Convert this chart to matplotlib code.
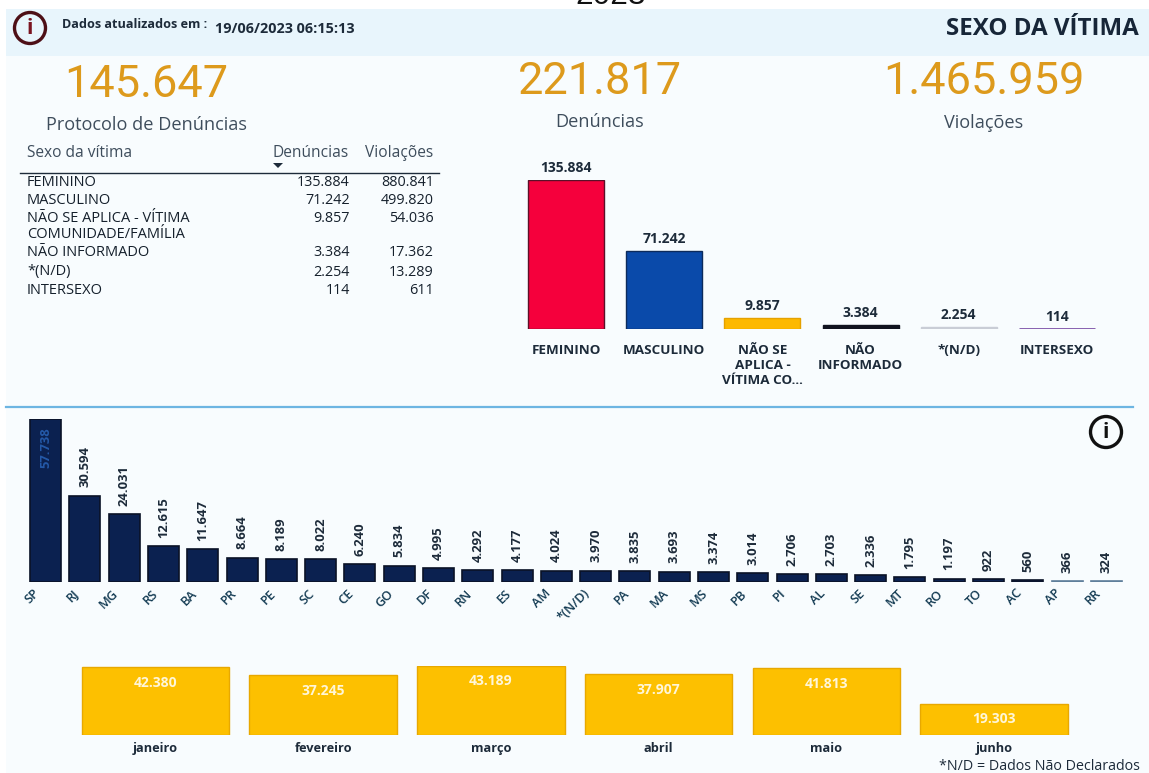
import matplotlib
matplotlib.use('Agg')
import matplotlib.pyplot as plt
from matplotlib.patches import Circle, Rectangle

plt.rcParams['font.family'] = ['Open Sans', 'DejaVu Sans']

W, H = 1149, 773

# data
kpi_values = ['145.647', '221.817', '1.465.959']
kpi_names = ['Protocolo de Denúncias', 'Denúncias', 'Violações']

table_names = ['FEMININO', 'MASCULINO', 'NÃO SE APLICA - VÍTIMA\nCOMUNIDADE/FAMÍLIA', 'NÃO INFORMADO', '*(N/D)', 'INTERSEXO']
table_den = ['135.884', '71.242', '9.857', '3.384', '2.254', '114']
table_vio = ['880.841', '499.820', '54.036', '17.362', '13.289', '611']

sex_labels = ['FEMININO', 'MASCULINO', 'NÃO SE\nAPLICA -\nVÍTIMA CO...', 'NÃO\nINFORMADO', '*(N/D)', 'INTERSEXO']
sex_values = [135884, 71242, 9857, 3384, 2254, 114]
sex_colors = ['#f5003c', '#0a4aaa', '#fdb900', '#10131f', '#c9cdd6', '#7d52a8']
sex_edges = ['#5b1028', '#0c2b5c', '#e5a100', '#10131f', '#c9cdd6', '#7d52a8']
sex_widths = [1, 1, 1, 1, 1, 2]

uf_labels = ['SP', 'RJ', 'MG', 'RS', 'BA', 'PR', 'PE', 'SC', 'CE', 'GO', 'DF', 'RN', 'ES', 'AM', '*(N/D)',
             'PA', 'MA', 'MS', 'PB', 'PI', 'AL', 'SE', 'MT', 'RO', 'TO', 'AC', 'AP', 'RR']
uf_values = [57738, 30594, 24031, 12615, 11647, 8664, 8189, 8022, 6240, 5834, 4995, 4292, 4177, 4024, 3970,
             3835, 3693, 3374, 3014, 2706, 2703, 2336, 1795, 1197, 922, 560, 366, 324]

month_labels = ['janeiro', 'fevereiro', 'março', 'abril', 'maio', 'junho']
month_values = [42380, 37245, 43189, 37907, 41813, 19303]


def fmt(v):
    return f'{v:,}'.replace(',', '.')


def px_axes(left, top, right, bottom):
    # axes placed by pixel box of the picture
    ax = fig.add_axes([left / W, 1 - bottom / H, (right - left) / W, (bottom - top) / H])
    ax.axis('off')
    ax.patch.set_alpha(0)
    return ax


fig = plt.figure(figsize=(W / 100, H / 100), dpi=100, facecolor='white')

# page background, in pixels
bg = fig.add_axes([0, 0, 1, 1])
bg.set_xlim(0, W)
bg.set_ylim(H, 0)
bg.axis('off')
bg.add_patch(Rectangle((6, 9), W - 6, H - 9, color='#f8fcfe', lw=0))
bg.add_patch(Rectangle((6, 9), W - 6, 47, color='#e8f5fc', lw=0))
bg.plot([6, 1133], [407, 407], color='#6db5e2', lw=1.6)

txt = '#1d2b3a'
# only the lower edge of this one shows in the picture
bg.text(611, -4, '2023', ha='center', va='center', fontsize=22.8, color='#111111', family=['Liberation Sans'])

# header
bg.add_patch(Circle((30, 28), 15.5, fc='none', ec='#4d0f16', lw=2.4))
bg.text(30, 28, 'i', ha='center', va='center', fontsize=15, color='#7a1420', fontweight='bold')
bg.text(62, 25, 'Dados atualizados em :', va='center', fontsize=9.1, fontweight='bold', color=txt)
bg.text(215, 29, '19/06/2023 06:15:13', va='center', fontsize=10.4, fontweight='bold', color=txt)
bg.text(1139, 29, 'SEXO DA VÍTIMA', ha='right', va='center', fontsize=17.4, fontweight='bold', color='#172638')

# big numbers
kpi_x = [146, 600, 984]
kpi_y = [85, 82, 82]
name_y = [125, 122, 123]
name_x = [147, 600, 984]
for i in range(3):
    bg.text(kpi_x[i], kpi_y[i], kpi_values[i], ha='center', va='center', fontsize=32.5, color='#dd9a1c',
            family=['Roboto'])
    bg.text(name_x[i], name_y[i], kpi_names[i], ha='center', va='center', fontsize=13.1, color='#3e4d5c')

# table
bg.text(27, 153, 'Sexo da vítima', va='center', fontsize=11.2, color='#3e4d5c')
bg.text(349, 153, 'Denúncias', ha='right', va='center', fontsize=11.2, color='#3e4d5c')
bg.text(433, 153, 'Violações', ha='right', va='center', fontsize=11.2, color='#3e4d5c')
bg.plot([20, 439], [172.5, 172.5], color='#1d2b3a', lw=1)
bg.fill([273, 283, 278], [163, 163, 168], color='#1d2b3a', lw=0)
row_y = [183, 201, 219, 252, 272, 290]
for i in range(len(table_names)):
    lines = table_names[i].split('\n')
    for j in range(len(lines)):
        bg.text(27, row_y[i] + j * 16, lines[j], va='center', fontsize=10.5, color='#15202c')
    bg.text(350, row_y[i], table_den[i], ha='right', va='center', fontsize=10.4, color='#15202c')
    bg.text(434, row_y[i], table_vio[i], ha='right', va='center', fontsize=10.4, color='#15202c')

# info icon lower right
bg.add_patch(Circle((1106, 432), 15.5, fc='none', ec='#111111', lw=2.4))
bg.text(1106, 432, 'i', ha='center', va='center', fontsize=15, color='#111111', fontweight='bold')

# sex of victim bars
ax1 = px_axes(517, 180, 1106, 329)
ax1.set_xlim(-0.5, 5.5)
ax1.set_ylim(0, sex_values[0])
ax1.bar(range(6), sex_values, width=0.775, color=sex_colors, edgecolor=sex_edges, linewidth=sex_widths)
for i, v in enumerate(sex_values):
    ax1.annotate(fmt(v), (i, v), xytext=(0, 3.5), textcoords='offset points', ha='center', va='bottom',
                 fontsize=10, fontweight='bold', color='#1d2b3a', annotation_clip=False)
    ax1.annotate(sex_labels[i], (i, 0), xytext=(0, -11), textcoords='offset points', ha='center', va='top',
                 fontsize=9.7, fontweight='bold', color='#1d2b3a', linespacing=1.17, annotation_clip=False)

# states
ax2 = px_axes(26, 419, 1126, 582)
ax2.set_xlim(-0.5, 27.5)
ax2.set_ylim(0, uf_values[0])
uf_colors = ['#0b2150'] * 26 + ['#5f7f9b'] * 2
uf_edges = ['#0a1226'] * 26 + ['#5f7f9b'] * 2
ax2.bar(range(28), uf_values, width=0.79, color=uf_colors, edgecolor=uf_edges, lw=1.2)
for i, v in enumerate(uf_values):
    if i == 0:
        ax2.annotate(fmt(v), (i, v), xytext=(0, -6), textcoords='offset points', ha='center', va='top',
                     rotation=90, fontsize=9.4, fontweight='bold', color='#2459a8')
    else:
        ax2.annotate(fmt(v), (i, v), xytext=(0, 6), textcoords='offset points', ha='center', va='bottom',
                     rotation=90, fontsize=9.4, fontweight='bold', color='#1d2b3a', annotation_clip=False)
    ax2.annotate(uf_labels[i], (i, 0), xytext=(-9, -3.5), textcoords='offset points', ha='right', va='top',
                 rotation=45, rotation_mode='anchor', fontsize=9.2, fontweight='semibold', color='#123a52',
                 annotation_clip=False)

# months
ax3 = px_axes(71.5, 666, 1078, 735)
ax3.set_xlim(-0.5, 5.5)
ax3.set_ylim(0, month_values[2])
ax3.bar(range(6), month_values, width=0.88, color='#fdc000', edgecolor='#e8a800', lw=1)
for i, v in enumerate(month_values):
    ax3.annotate(fmt(v), (i, v), xytext=(0, -6), textcoords='offset points', ha='center', va='top',
                 fontsize=10, fontweight='bold', color='#fff6d8')
    ax3.annotate(month_labels[i], (i, 0), xytext=(0, -5), textcoords='offset points', ha='center', va='top',
                 fontsize=9.2, fontweight='bold', color='#1d2b3a', annotation_clip=False)

bg.text(1140, 766, '*N/D = Dados Não Declarados', ha='right', va='center', fontsize=10.3, color='#1d2b3a')

fig.savefig('out.png', dpi=100)
